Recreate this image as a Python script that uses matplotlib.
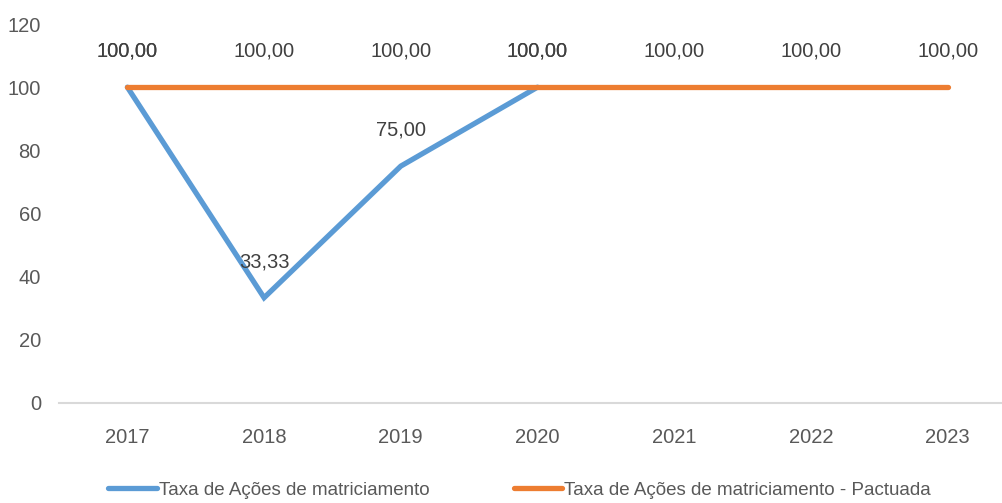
import matplotlib
matplotlib.use("Agg")
import matplotlib.pyplot as plt

# dados
anos = ["2017", "2018", "2019", "2020", "2021", "2022", "2023"]
taxa_real = [100.00, 33.33, 75.00, 100.00]
taxa_pactuada = [100.00, 100.00, 100.00, 100.00, 100.00, 100.00, 100.00]
rotulos_y = [0, 20, 40, 60, 80, 100, 120]

plt.rcParams['font.family'] = ['Liberation Sans Narrow', 'Liberation Sans', 'DejaVu Sans']

fig = plt.figure(figsize=(10.03, 5.03), dpi=100)
ax = fig.add_axes([59 / 1003, 100 / 503, (1016 - 59) / 1003, 379 / 503])

azul = '#5B9BD5'
laranja = '#ED7D31'
cinza_txt = '#595959'

x_real = list(range(len(taxa_real)))
x_pact = list(range(len(taxa_pactuada)))

ax.plot(x_real, taxa_real, color=azul, lw=3.8, solid_capstyle='round', solid_joinstyle='miter',
        label='Taxa de Ações de matriciamento', zorder=3)
ax.plot(x_pact, taxa_pactuada, color=laranja, lw=3.8, solid_capstyle='round',
        label='Taxa de Ações de matriciamento - Pactuada', zorder=4)

def fmt(v):
    return f"{v:.2f}".replace('.', ',')

for xi, v in zip(x_real, taxa_real):
    ax.annotate(fmt(v), (xi, v), xytext=(0, 26), textcoords='offset points',
                ha='center', va='center', fontsize=14.5, color='#404040')
for xi, v in zip(x_pact, taxa_pactuada):
    ax.annotate(fmt(v), (xi, v), xytext=(0, 26), textcoords='offset points',
                ha='center', va='center', fontsize=14.5, color='#404040')

ax.set_xlim(-0.5, len(anos) - 0.5)
ax.set_ylim(0, 120)
ax.set_xticks(range(len(anos)))
ax.set_xticklabels(anos)
ax.set_yticks(rotulos_y)
ax.tick_params(axis='both', length=0, labelsize=14.5, colors=cinza_txt)
ax.tick_params(axis='x', pad=18)
ax.tick_params(axis='y', pad=13)

for s in ['top', 'right', 'left']:
    ax.spines[s].set_visible(False)
ax.spines['bottom'].set_color('#D9D9D9')
ax.spines['bottom'].set_linewidth(1.5)

fig.legend(loc='center', bbox_to_anchor=(0.518, 0.025), ncol=2, frameon=False,
           fontsize=13.5, handlelength=2.6, handletextpad=0.1, columnspacing=4.5,
           labelcolor=cinza_txt)

fig.savefig('out.png', dpi=100)
